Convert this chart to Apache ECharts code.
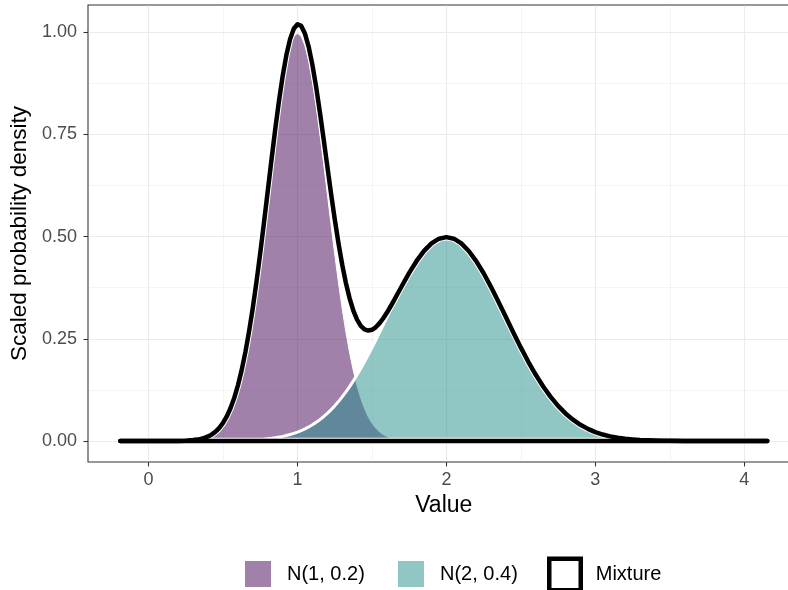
<!DOCTYPE html>
<html><head><meta charset="utf-8">
<script src="https://cdn.jsdelivr.net/npm/echarts@6/dist/echarts.min.js"></script>
<style>html,body{margin:0;padding:0;background:#fff}#chart{width:788px;height:590px}</style>
</head><body><div id="chart"></div>
<script>
// ---- data ----
const xValues = [-0.19, 0.0, 0.1, 0.2, 0.25, 0.3,
  0.325, 0.35, 0.375, 0.4, 0.425, 0.45, 0.475, 0.5, 0.525, 0.55, 0.575, 0.6, 0.625, 0.65, 0.675, 0.7,
  0.725, 0.75, 0.775, 0.8, 0.825, 0.85, 0.875, 0.9, 0.925, 0.95, 0.975, 1.0, 1.025, 1.05, 1.075, 1.1,
  1.125, 1.15, 1.175, 1.2, 1.225, 1.25, 1.275, 1.3, 1.325, 1.35, 1.375, 1.4, 1.425, 1.45, 1.475, 1.5,
  1.525, 1.55, 1.575, 1.6, 1.625, 1.65, 1.675,
  1.7, 1.75, 1.8, 1.85, 1.9, 1.95, 2.0, 2.05, 2.1, 2.15, 2.2, 2.25, 2.3, 2.35, 2.4, 2.45, 2.5, 2.55,
  2.6, 2.65, 2.7, 2.75, 2.8, 2.85, 2.9, 2.95, 3.0, 3.05, 3.1, 3.15, 3.2, 3.25, 3.3, 3.35, 3.4, 3.45, 3.5,
  3.6, 3.7, 3.8, 4.0, 4.155];
const n1Values = [0, 0, 0, 0.0003, 0.0009, 0.0022,
  0.0034, 0.0051, 0.0076, 0.0111, 0.0160, 0.0227, 0.0318, 0.0438, 0.0594, 0.0794, 0.1043, 0.1350, 0.1720, 0.2157, 0.2664, 0.3238,
  0.3876, 0.4566, 0.5297, 0.6050, 0.6802, 0.7529, 0.8204, 0.8802, 0.9297, 0.9667, 0.9896, 0.9974, 0.9896, 0.9667, 0.9297, 0.8802,
  0.8204, 0.7529, 0.6802, 0.6050, 0.5297, 0.4566, 0.3876, 0.3238, 0.2664, 0.2157, 0.1720, 0.1350, 0.1043, 0.0794, 0.0594, 0.0438,
  0.0318, 0.0227, 0.0160, 0.0111, 0.0076, 0.0051, 0.0034,
  0.0022, 0.0009, 0.0003, 0, 0, 0, 0, 0, 0, 0, 0, 0, 0, 0, 0, 0, 0, 0,
  0, 0, 0, 0, 0, 0, 0, 0, 0, 0, 0, 0, 0, 0, 0, 0, 0, 0, 0,
  0, 0, 0, 0, 0];
const n2Values = [0, 0, 0, 0, 0, 0.0001,
  0.0001, 0.0001, 0.0001, 0.0002, 0.0002, 0.0003, 0.0003, 0.0004, 0.0006, 0.0007, 0.0009, 0.0011, 0.0014, 0.0017, 0.0021, 0.0025,
  0.0031, 0.0038, 0.0046, 0.0055, 0.0067, 0.0080, 0.0096, 0.0114, 0.0135, 0.0159, 0.0187, 0.0219, 0.0256, 0.0297, 0.0344, 0.0397,
  0.0456, 0.0522, 0.0594, 0.0675, 0.0763, 0.0860, 0.0965, 0.1079, 0.1201, 0.1332, 0.1471, 0.1619, 0.1775, 0.1938, 0.2108, 0.2283,
  0.2464, 0.2649, 0.2836, 0.3025, 0.3214, 0.3401, 0.3585,
  0.3764, 0.4102, 0.4401, 0.4648, 0.4834, 0.4948, 0.4987, 0.4948, 0.4834, 0.4648, 0.4401, 0.4102, 0.3764, 0.3401, 0.3025, 0.2649, 0.2283, 0.1938,
  0.1619, 0.1332, 0.1079, 0.0860, 0.0675, 0.0522, 0.0397, 0.0297, 0.0219, 0.0159, 0.0114, 0.0080, 0.0055, 0.0038, 0.0025, 0.0017, 0.0011, 0.0007, 0.0004,
  0.0002, 0.0001, 0, 0, 0];
const mixtureValues = [0, 0, 0, 0.0003, 0.0009, 0.0023,
  0.0035, 0.0052, 0.0077, 0.0113, 0.0162, 0.0230, 0.0321, 0.0442, 0.0600, 0.0801, 0.1052, 0.1361, 0.1734, 0.2174, 0.2685, 0.3263,
  0.3907, 0.4604, 0.5343, 0.6105, 0.6869, 0.7609, 0.8300, 0.8916, 0.9432, 0.9826, 1.0083, 1.0193, 1.0152, 0.9964, 0.9641, 0.9199,
  0.8660, 0.8051, 0.7396, 0.6725, 0.6060, 0.5426, 0.4841, 0.4317, 0.3865, 0.3489, 0.3191, 0.2969, 0.2818, 0.2732, 0.2702, 0.2721,
  0.2782, 0.2876, 0.2996, 0.3136, 0.3290, 0.3452, 0.3619,
  0.3786, 0.4111, 0.4404, 0.4649, 0.4834, 0.4948, 0.4987, 0.4948, 0.4834, 0.4648, 0.4401, 0.4102, 0.3764, 0.3401, 0.3025, 0.2649, 0.2283, 0.1938,
  0.1619, 0.1332, 0.1079, 0.0860, 0.0675, 0.0522, 0.0397, 0.0297, 0.0219, 0.0159, 0.0114, 0.0080, 0.0055, 0.0038, 0.0025, 0.0017, 0.0011, 0.0007, 0.0004,
  0.0002, 0.0001, 0, 0, 0];
const seriesNames = ['N(1, 0.2)', 'N(2, 0.4)', 'Mixture'];
const xTicks = [0, 1, 2, 3, 4];
const yTicks = [0, 0.25, 0.5, 0.75, 1];
const xMinor = [0.5, 1.5, 2.5, 3.5];
const yMinor = [0.125, 0.375, 0.625, 0.875];
const baselineX = [-0.19, 4.155];

// ---- chart ----
const FONT = '"Liberation Sans", Arial, Helvetica, sans-serif';
const X_MIN = -0.407, X_MAX = 4.372, Y_MIN = -0.0513, Y_MAX = 1.0663;
const pairs = vals => xValues.map((x, i) => [x, vals[i]]);
const baseline = baselineX.map(x => [x, 0]);

function gridLinesFor(xs, ys) {
  const out = [];
  ys.forEach(v => out.push([{coord: [-0.401, v]}, {coord: [X_MAX, v]}]));
  xs.forEach(v => out.push([{coord: [v, Y_MIN + 0.002]}, {coord: [v, Y_MAX - 0.002]}]));
  return out;
}
function gridSeries(xs, ys, width) {
  return {
    type: 'line', name: '_grid', data: [[0, 0]], symbol: 'none', silent: true, z: 1,
    lineStyle: {width: 0, opacity: 0},
    markLine: {silent: true, symbol: ['none', 'none'], label: {show: false}, z: 1, animation: false,
      lineStyle: {color: '#ebebeb', width: width, type: 'solid'}, emphasis: {disabled: true},
      data: gridLinesFor(xs, ys)}
  };
}
const common = {type: 'line', smooth: false, symbol: 'none', showSymbol: false,
  silent: true, emphasis: {disabled: true}};

const chart = echarts.init(document.getElementById('chart'), null, {renderer: 'canvas'});
chart.setOption({
  animation: false,
  backgroundColor: '#ffffff',
  grid: {left: 88, top: 5, width: 711.6, height: 457, show: true, borderColor: '#333333', borderWidth: 1.07,
    backgroundColor: 'transparent', containLabel: false, outerBoundsMode: 'none'},
  xAxis: {type: 'value', min: X_MIN, max: X_MAX,
    axisLine: {show: false, onZero: false}, splitLine: {show: false}, minorSplitLine: {show: false},
    axisTick: {show: true, customValues: xTicks, length: 4.5, lineStyle: {color: '#333333', width: 1.07}},
    axisLabel: {customValues: xTicks, color: '#4d4d4d', fontSize: 18, margin: 9, fontFamily: FONT},
    name: 'Value', nameLocation: 'middle', nameGap: 31,
    nameTextStyle: {color: '#000', fontSize: 23, fontFamily: FONT}},
  yAxis: {type: 'value', min: Y_MIN, max: Y_MAX,
    axisLine: {show: false, onZero: false}, splitLine: {show: false}, minorSplitLine: {show: false},
    axisTick: {show: true, customValues: yTicks, length: 4.5, lineStyle: {color: '#333333', width: 1.07}},
    axisLabel: {customValues: yTicks, color: '#4d4d4d', fontSize: 18, margin: 11, fontFamily: FONT,
      formatter: v => Number(v).toFixed(2)},
    name: 'Scaled probability density', nameLocation: 'middle', nameGap: 57,
    nameTextStyle: {color: '#000', fontSize: 22.5, fontFamily: FONT}},
  legend: [
    {data: [{name: seriesNames[0], icon: 'rect', itemStyle: {color: 'rgba(68,1,84,0.5)', borderWidth: 0, opacity: 1}}],
      left: 245, top: 561, itemWidth: 26, itemHeight: 26, padding: 0, selectedMode: false,
      textStyle: {fontSize: 20, color: '#000', fontFamily: FONT, padding: [0, 0, 0, 11]}},
    {data: [{name: seriesNames[1], icon: 'rect', itemStyle: {color: 'rgba(33,144,140,0.5)', borderWidth: 0, opacity: 1}}],
      left: 398, top: 561, itemWidth: 26, itemHeight: 26, padding: 0, selectedMode: false,
      textStyle: {fontSize: 20, color: '#000', fontFamily: FONT, padding: [0, 0, 0, 11]}},
    {data: [{name: seriesNames[2], icon: 'rect', itemStyle: {color: '#ffffff', borderColor: '#000000', borderWidth: 4.5, opacity: 1}}],
      left: 547, top: 556.5, itemWidth: 31.5, itemHeight: 31.5, padding: 0, selectedMode: false,
      textStyle: {fontSize: 20, color: '#000', fontFamily: FONT, padding: [0, 0, 0, 10]}}
  ],
  series: [
    gridSeries(xTicks, yTicks, 1.1),
    gridSeries(xMinor, yMinor, 0.55),
    Object.assign({}, common, {name: seriesNames[0], data: pairs(n1Values), z: 2,
      itemStyle: {color: 'rgba(68,1,84,0.5)'},
      lineStyle: {color: '#ffffff', width: 1},
      areaStyle: {color: 'rgba(68,1,84,0.5)', opacity: 1}}),
    Object.assign({}, common, {name: seriesNames[1], data: pairs(n2Values), z: 3,
      itemStyle: {color: 'rgba(33,144,140,0.5)'},
      lineStyle: {color: '#ffffff', width: 3},
      areaStyle: {color: 'rgba(33,144,140,0.5)', opacity: 1}}),
    Object.assign({}, common, {name: seriesNames[2], data: pairs(mixtureValues), z: 4,
      lineStyle: {color: '#ffffff', width: 6.5, cap: 'round', join: 'round'}}),
    Object.assign({}, common, {name: seriesNames[2], data: baseline, z: 4,
      lineStyle: {color: '#ffffff', width: 6.5, cap: 'round'}}),
    Object.assign({}, common, {name: seriesNames[2], data: pairs(mixtureValues), z: 5,
      lineStyle: {color: '#000000', width: 4.5, cap: 'round', join: 'round'}}),
    Object.assign({}, common, {name: seriesNames[2], data: baseline, z: 5,
      lineStyle: {color: '#000000', width: 4.5, cap: 'round'}})
  ]
});
</script></body></html>
